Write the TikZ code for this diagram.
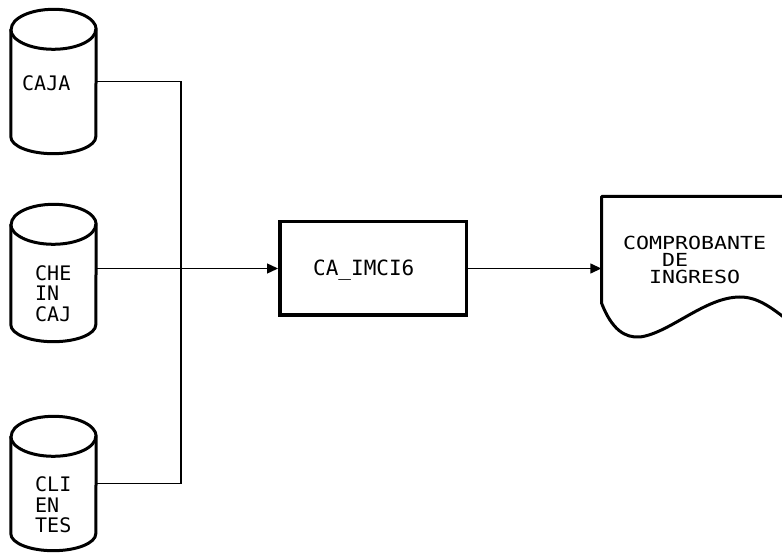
\documentclass[tikz,border=0pt]{standalone}
\usepackage{fontspec}
\setmonofont{DejaVu Sans Mono}
\newfontfamily\docfont[FakeStretch=1.2]{DejaVu Sans Mono}
\usetikzlibrary{arrows.meta}
\newcommand\cylshape[1]{%
  \draw[outline] ([yshift=-20pt]#1.north west) -- ([yshift=17pt]#1.south west)
    arc[start angle=180,end angle=360,x radius=42.5,y radius=17]
    -- ([yshift=-20pt]#1.north east)
    arc[start angle=0,end angle=180,x radius=42.5,y radius=20] -- cycle;
  \draw[outline] ([yshift=-20pt]#1.north west)
    arc[start angle=180,end angle=360,x radius=42.5,y radius=20];}
\begin{document}
\begin{tikzpicture}[x=1pt,y=1pt,
  body/.style={rectangle, minimum width=85pt, inner sep=0pt},
  outline/.style={line width=3pt, line join=round},
  lbl/.style={font=\ttfamily\fontsize{20}{20.5}\selectfont, align=left, inner sep=0pt, anchor=west},
  wire/.style={line width=1.4pt},
  arr/.style={wire, -{Triangle[length=11pt,width=10pt]}},
]
\useasboundingbox (0,0) rectangle (782,-553);

% data stores
\node[body, minimum height=144pt] (caja) at (53.5,-81.5) {};
\node[body, minimum height=137pt] (che) at (53.5,-273) {};
\node[body, minimum height=134pt] (cli) at (53.5,-483.5) {};
\cylshape{caja}
\cylshape{che}
\cylshape{cli}
\node[lbl] (cajat) at (22,-83.5) {CAJA};
\node[lbl] (chet) at (35,-293.5) {CHE\\IN\\CAJ};
\node[lbl] (clit) at (35,-505) {CLI\\EN\\TES};

% process
\node[draw, line width=3.5pt, minimum width=186.5pt, minimum height=93.5pt, inner sep=0pt] (proc) at (373,-268.5) {};
\node[lbl, font=\ttfamily\fontsize{21}{22}\selectfont] (proct) at (313,-270) {CA\_IMCI6};

% document
\node[rectangle, minimum width=180pt, minimum height=107pt, inner sep=0pt] (doc) at (691.5,-250) {};
\draw[outline] (800,-196.5) -- (601.5,-196.5) -- (601.5,-303)
  .. controls (612,-330) and (625,-338) .. (640,-337)
  .. controls (670,-333) and (705,-297) .. (740,-297)
  .. controls (758,-297) and (772,-308) .. (790,-322);
\node[lbl, font=\docfont\fontsize{18}{17}\selectfont] (doct) at (623,-260)
  {COMPROBANTE\\\phantom{XXX}DE\\\phantom{XX}INGRESO};

% connectors
\coordinate (j) at (181,-268.5);
\draw[wire] (caja.east) -| (j);
\draw[wire] (cli.east) -| (j);
\draw[arr] (che.east |- proc.west) -- (proc.west);
\draw[arr] (proc.east) -- (proc.east -| doc.west);
\end{tikzpicture}
\end{document}
